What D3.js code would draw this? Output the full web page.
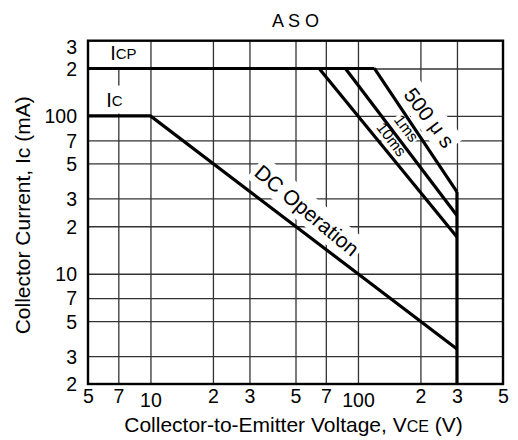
<!DOCTYPE html>
<html><head><meta charset="utf-8">
<script src="https://cdn.jsdelivr.net/npm/d3@7"></script>
<style>
body{margin:0;background:#fff}
text{font-family:"Liberation Sans",Arial,Helvetica,sans-serif;fill:#000}
</style>
</head><body>
<svg id="chart" width="518" height="440"></svg>
<script>
// Axis ticks
const xTickValues = [5, 7, 10, 20, 30, 50, 70, 100, 200, 300, 500];
const xTickLabels = ["5", "7", "10", "2", "3", "5", "7", "100", "2", "3", "5"];
const yTickValues = [2, 3, 5, 7, 10, 20, 30, 50, 70, 100, 200, 300];
const yTickLabels = ["2", "3", "5", "7", "10", "2", "3", "5", "7", "100", "2", "3"];

// Safe operating area boundaries: VCE in V, IC in mA
const icpV = [5, 120];          const icpI = [200, 200];
const pulse500usV = [120, 300]; const pulse500usI = [200, 33];
const pulse1msV = [87, 300];    const pulse1msI = [200, 23.4];
const pulse10msV = [65, 300];   const pulse10msI = [200, 17.1];
const dcV = [5, 10, 300];       const dcI = [100, 100, 3.33];
const vceoV = [300, 300];       const vceoI = [33, 2];

const svg = d3.select("#chart");
const L = 88, R = 503, T = 40.7, B = 384;

const x = d3.scaleLog().domain([5, 500]).range([L, R]);
const y = d3.scaleLog().domain([2, 300]).range([B, T]);

// Grid
const gridX = xTickValues.slice(1, -1);
const gridY = yTickValues.slice(1, -1);
const gx = svg.append("g").attr("transform", `translate(0,${B})`)
  .call(d3.axisBottom(x).tickValues(gridX).tickSize(-(B - T)).tickFormat(""));
const gy = svg.append("g").attr("transform", `translate(${L},0)`)
  .call(d3.axisLeft(y).tickValues(gridY).tickSize(-(R - L)).tickFormat(""));
[gx, gy].forEach(g => {
  g.select(".domain").remove();
  g.selectAll(".tick line").attr("stroke", "#333").attr("stroke-width", 1.3);
});

// Tick labels
const xl = svg.append("g").attr("transform", `translate(0,${B})`)
  .call(d3.axisBottom(x).tickValues(xTickValues).tickSize(0)
    .tickFormat((d, i) => xTickLabels[i]));
xl.select(".domain").remove();
xl.selectAll("text").attr("font-size", 19.5).attr("font-family", "Liberation Sans, Arial, sans-serif")
  .attr("y", (d, i) => xTickLabels[i].length > 1 ? 23 : 19).attr("dy", 0);

const yl = svg.append("g").attr("transform", `translate(${L - 11},0)`)
  .call(d3.axisLeft(y).tickValues(yTickValues).tickSize(0)
    .tickFormat((d, i) => yTickLabels[i]));
yl.select(".domain").remove();
yl.selectAll("text").attr("font-size", 19.5).attr("font-family", "Liberation Sans, Arial, sans-serif")
  .attr("x", 0).attr("dy", (d, i) => i === yTickValues.length - 1 ? "0.66em" : "0.35em");

// Label layers: white backing, curves, then text
const bgLayer = svg.append("g");
const curveLayer = svg.append("g");
const textLayer = svg.append("g");

function label(px, py, angle, parts, pad) {
  const g = textLayer.append("g").attr("transform", `translate(${px},${py}) rotate(${angle})`);
  const t = g.append("text").attr("text-anchor", "middle").attr("dominant-baseline", "central");
  parts.forEach(p => t.append("tspan").attr("font-size", p[1]).text(p[0]));
  const bb = t.node().getBBox();
  bgLayer.append("rect")
    .attr("transform", `translate(${px},${py}) rotate(${angle})`)
    .attr("x", bb.x - pad).attr("y", bb.y - pad)
    .attr("width", bb.width + 2 * pad).attr("height", bb.height + 2 * pad)
    .attr("fill", "#fff");
}

label(x(7.4), y(250), 0, [["I", 20], ["CP", 15]], 4);
label(x(6.7), y(127), 0, [["I", 20], ["C", 15]], 3);
label(x(57), y(25.4), 40, [["DC Operation", 21]], 3);
label(x(222), y(98), 53, [["500 ", 21], ["μ", 20], [" s", 21]], 3);
label(x(172), y(84), 53, [["1ms", 15.5]], 1);
label(x(146), y(71.5), 53, [["10ms", 15.5]], 1);

// SOA curves
const line = d3.line().x(d => x(d[0])).y(d => y(d[1]));
const series = [
  [icpV, icpI], [pulse500usV, pulse500usI], [pulse1msV, pulse1msI],
  [pulse10msV, pulse10msI], [dcV, dcI], [vceoV, vceoI]
];
series.forEach(([vs, is]) => {
  curveLayer.append("path")
    .datum(vs.map((v, i) => [v, is[i]]))
    .attr("d", line)
    .attr("fill", "none").attr("stroke", "#000")
    .attr("stroke-width", 3.2).attr("stroke-linejoin", "miter");
});

// Frame
svg.append("rect").attr("x", L).attr("y", T).attr("width", R - L).attr("height", B - T)
  .attr("fill", "none").attr("stroke", "#000").attr("stroke-width", 2.4);

// Titles
svg.append("text").attr("x", (L + R) / 2).attr("y", 27).attr("text-anchor", "middle")
  .attr("font-size", 18).text("A S O");

const xt = svg.append("text").attr("x", (L + R) / 2 - 2).attr("y", 432).attr("text-anchor", "middle")
  .attr("font-size", 21);
xt.append("tspan").text("Collector-to-Emitter Voltage, V");
xt.append("tspan").attr("font-size", 16).text("CE");
xt.append("tspan").text(" (V)");

svg.append("text").attr("transform", `translate(30,${(T + B) / 2 + 3}) rotate(-90)`)
  .attr("text-anchor", "middle").attr("font-size", 21)
  .text("Collector Current, Ic (mA)");
</script>
</body></html>
